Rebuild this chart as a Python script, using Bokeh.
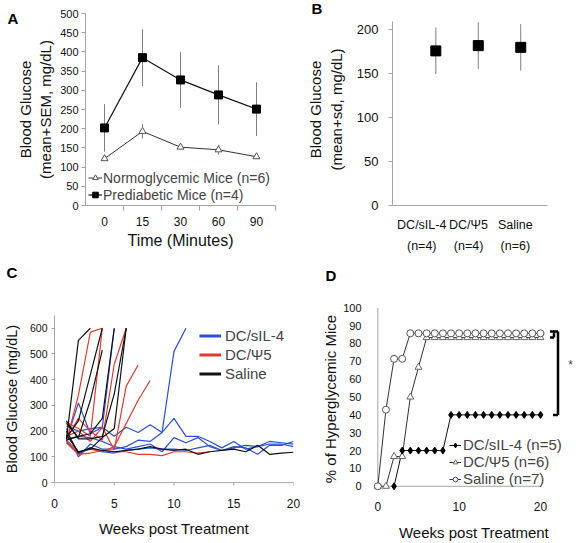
from bokeh.plotting import figure
from bokeh.models import Range1d, FixedTicker, Label, Legend, LegendItem, CustomJSTickFormatter
from bokeh.layouts import row, column
from bokeh.embed import file_html
from bokeh.resources import INLINE

FONT = "Liberation Sans"
AXC = "#a6a6a6"

# ---------------- Panel A data ----------------
a_times = ["0", "15", "30", "60", "90"]
a_normo_mean = [122, 193, 152, 145, 127]
a_normo_sem = [4, 19, 4, 13, 4]
a_pre_mean = [202, 385, 327, 288, 251]
a_pre_sem = [62, 74, 73, 77, 70]
a_yticks = [0, 50, 100, 150, 200, 250, 300, 350, 400, 450, 500]

# ---------------- Panel B data ----------------
b_groups = ["DC/sIL-4", "DC/\u03a85", "Saline"]
b_n = [4, 4, 6]
b_mean = [176, 182, 180]
b_sd = [26.5, 26.5, 26.5]
b_yticks = [0, 50, 100, 150, 200]

# ---------------- Panel C data (weekly glucose per mouse, from week 1) ----------------
c_weeks = [1, 2, 3, 4, 5, 6, 7, 8, 9, 10, 11, 12, 13, 14, 15, 16, 17, 18, 19, 20]
c_sil4 = [
    [165, 310, 190, 215, 600],
    [210, 100, 150, 130, 130, 140, 165, 160, 195, 510, 600],
    [220, 200, 210, 215, 180, 215, 195, 225, 195, 250, 180, 180, 160, 135, 160, 130, 140, 160, 155, 150],
    [170, 180, 175, 160, 140, 130, 140, 150, 120, 175, 155, 175, 140, 125, 140, 135, 110, 145, 145, 160],
    [160, 110, 135, 120, 115, 125, 130, 135, 130, 130, 125, 135, 145, 125, 135, 145, 140, 150, 150, 140],
]
c_psi5 = [
    [160, 340, 585, 600],
    [170, 250, 200, 165, 460, 600],
    [180, 200, 160, 215, 127, 375, 457],
    [165, 120, 130, 120, 140, 230, 320, 397],
    [155, 110, 115, 125, 120, 120, 110, 110, 105, 120, 120, 115, 120],
    [235, 210, 180, 600],
]
c_saline = [
    [170, 553, 600],
    [230, 175, 320, 515],
    [175, 240, 420, 600],
    [165, 180, 190, 250, 600],
    [240, 170, 170, 180, 345, 600],
    [185, 120, 130, 175, 210, 600],
    [200, 115, 135, 125, 120, 125, 130, 140, 130, 125, 130, 110, 120, 125, 130, 120, 145, 110, 115, 118],
]
c_labels = ["DC/sIL-4", "DC/\u03a85", "Saline"]
c_colors = ["#2b4fd8", "#e23a2e", "#111111"]
c_xticks = [0, 5, 10, 15, 20]
c_yticks = [0, 100, 200, 300, 400, 500, 600]

# ---------------- Panel D data (% hyperglycemic) ----------------
d_sil4_weeks = [2, 3, 4, 5, 6, 7, 8, 9, 10, 11, 12, 13, 14, 15, 16, 17, 18, 19, 20]
d_sil4_pct = [0, 20, 20, 20, 20, 20, 20, 40, 40, 40, 40, 40, 40, 40, 40, 40, 40, 40, 40]
d_psi5_weeks = [0, 1, 2, 3, 4, 5, 6, 7, 8, 9, 10, 11, 12, 13, 14, 15, 16, 17, 18, 19, 20]
d_psi5_pct = [0, 0, 16.7, 16.7, 50, 66.7, 83.3, 83.3, 83.3, 83.3, 83.3, 83.3, 83.3, 83.3, 83.3, 83.3, 83.3, 83.3, 83.3, 83.3, 83.3]
d_sal_weeks = [0, 1, 2, 3, 4, 5, 6, 7, 8, 9, 10, 11, 12, 13, 14, 15, 16, 17, 18, 19, 20]
d_sal_pct = [0, 42.9, 71.4, 71.4, 85.7, 85.7, 85.7, 85.7, 85.7, 85.7, 85.7, 85.7, 85.7, 85.7, 85.7, 85.7, 85.7, 85.7, 85.7, 85.7, 85.7]
d_labels = ["DC/sIL-4 (n=5)", "DC/\u03a85 (n=6)", "Saline (n=7)"]
d_xticks = [0, 10, 20]
d_yticks = [0, 10, 20, 30, 40, 50, 60, 70, 80, 90, 100]


class Geo:
    """figure placement: page origin (ox, oy), size, frame l/t/r/b in figure pixels"""
    def __init__(self, ox, oy, w, h, fl, ft, fr, fb, xr, yr):
        self.ox, self.oy, self.w, self.h = ox, oy, w, h
        self.fl, self.ft, self.fr, self.fb = fl, ft, fr, fb
        self.xr, self.yr = xr, yr

    def data(self, px, py):
        x = self.xr[0] + (px - self.ox - self.fl) / (self.fr - self.fl) * (self.xr[1] - self.xr[0])
        y = self.yr[0] + (self.oy + self.fb - py) / (self.fb - self.ft) * (self.yr[1] - self.yr[0])
        return x, y

    def dy(self, pixels):
        return pixels / (self.fb - self.ft) * (self.yr[1] - self.yr[0])


def make_fig(g):
    p = figure(width=g.w, height=g.h, x_range=Range1d(*g.xr), y_range=Range1d(*g.yr),
               output_backend="svg", toolbar_location=None,
               min_border_left=g.fl, min_border_right=g.w - g.fr,
               min_border_top=g.ft, min_border_bottom=g.h - g.fb)
    p.grid.visible = False
    p.outline_line_color = None
    for ax in (p.xaxis[0], p.yaxis[0]):
        ax.axis_line_color = AXC
        ax.major_tick_line_color = AXC
        ax.minor_tick_line_color = None
        ax.major_tick_in = 0
        ax.major_label_text_font = FONT
        ax.major_label_text_color = "#111111"
        ax.axis_label_text_font = FONT
        ax.axis_label_text_font_style = "normal"
        ax.axis_label_text_color = "#111111"
    return p


def letter(p, g, txt, page_x, valign, standoff):
    t = p.title
    t.text = txt
    t.align = "left"
    t.offset = page_x - g.ox - g.fl
    t.vertical_align = valign
    t.standoff = standoff
    t.text_font = FONT
    t.text_font_size = "15px"
    t.text_font_style = "bold"
    t.text_color = "black"


W1, W2 = 304, 272
H1, H2 = 262, 281

# ====================== Panel A ======================
gA = Geo(0, 0, W1, H1, 85, 13, 275, 205, (-0.5, 4.5), (0, 500))
pA = make_fig(gA)
ax_idx = list(range(len(a_times)))
pA.xaxis.ticker = FixedTicker(ticks=ax_idx, minor_ticks=[i + 0.5 for i in ax_idx])
pA.xaxis.major_label_overrides = {i: t for i, t in zip(ax_idx, a_times)}
pA.xaxis.major_tick_out = 0
pA.xaxis.minor_tick_line_color = AXC
pA.xaxis.minor_tick_out = 5
pA.xaxis.minor_tick_in = 0
pA.xaxis.major_label_standoff = 6
pA.xaxis.major_label_text_font_size = "12px"
pA.xaxis.axis_label = "Time (Minutes)"
pA.xaxis.axis_label_text_font_size = "16px"
pA.xaxis.axis_label_standoff = 3
pA.yaxis.ticker = FixedTicker(ticks=a_yticks)
pA.yaxis.major_tick_out = 4
pA.yaxis.major_label_standoff = 3
pA.yaxis.major_label_text_font_size = "11px"
pA.yaxis.axis_label = "Blood Glucose\n(mean+SEM, mg/dL)"
pA.yaxis.axis_label_text_font_size = "15px"
pA.yaxis.axis_label_standoff = 3

pA.segment(x0=ax_idx, y0=[m - s for m, s in zip(a_pre_mean, a_pre_sem)],
           x1=ax_idx, y1=[m + s for m, s in zip(a_pre_mean, a_pre_sem)], line_color="#808080", line_width=1)
pA.segment(x0=ax_idx, y0=[m - s for m, s in zip(a_normo_mean, a_normo_sem)],
           x1=ax_idx, y1=[m + s for m, s in zip(a_normo_mean, a_normo_sem)], line_color="#808080", line_width=1)
lnA1 = pA.line(ax_idx, a_normo_mean, line_color="#333333", line_width=1)
mkA1 = pA.scatter(ax_idx, a_normo_mean, marker="triangle", size=7, fill_color="white", line_color="#555555")
lnA2 = pA.line(ax_idx, a_pre_mean, line_color="#111111", line_width=1.2)
mkA2 = pA.scatter(ax_idx, a_pre_mean, marker="square", size=8, fill_color="black", line_color="black")
legA = Legend(items=[LegendItem(label="Normoglycemic Mice (n=6)", renderers=[lnA1, mkA1]),
                     LegendItem(label="Prediabetic Mice (n=4)", renderers=[lnA2, mkA2])],
              location=(3, 2), padding=0, margin=0, spacing=0, glyph_width=14, glyph_height=17,
              label_height=17, label_standoff=1, label_text_font=FONT, label_text_font_size="14px",
              background_fill_alpha=0, border_line_color=None)
pA.add_layout(legA)
letter(pA, gA, "\nA", 7, "bottom", -26)

# ====================== Panel B ======================
b_scale = (205 - 29.3) / 200.0           # px per unit
gB = Geo(W1, 0, W2, H1, 84, 13, 243, 205, (-1.02, 2.63), (0, (205 - 13) / b_scale))
pB = make_fig(gB)
bx = list(range(len(b_groups)))
b_label_x = [gB.data(px, 0)[0] for px in (418, 466, 514)]
pB.xaxis.ticker = FixedTicker(ticks=b_label_x)
pB.xaxis.formatter = CustomJSTickFormatter(
    args=dict(labels=[f"{g}\n(n={n})" for g, n in zip(b_groups, b_n)]),
    code="return labels[index]")
pB.xaxis.major_tick_out = 0
pB.xaxis.major_label_standoff = 12
pB.xaxis.major_label_text_font_size = "12.5px"
pB.xaxis.major_label_text_line_height = 1.55
pB.yaxis.ticker = FixedTicker(ticks=b_yticks)
pB.yaxis.bounds = (0, 209)
pB.yaxis.major_tick_out = 4
pB.yaxis.major_label_standoff = 10
pB.yaxis.major_label_text_font_size = "13px"
pB.yaxis.axis_label = "Blood Glucose\n(mean+sd, mg/dL)"
pB.yaxis.axis_label_text_font_size = "15px"
pB.yaxis.axis_label_standoff = 9
pB.segment(x0=bx, y0=[m - s for m, s in zip(b_mean, b_sd)], x1=bx,
           y1=[m + s for m, s in zip(b_mean, b_sd)], line_color="#808080", line_width=1)
pB.scatter(bx, b_mean, marker="square", size=10, fill_color="black", line_color="black")
letter(pB, gB, "B", 307, "top", -11)

# ====================== Panel C ======================
c_scale = (485 - 315) / 650.0
gC = Geo(0, H1, W1, H2, 53, 45, 293, 231, (0, 20),
         (-(493 - 485) / c_scale, 650 + (315 - 307) / c_scale))
pC = make_fig(gC)
pC.xaxis.ticker = FixedTicker(ticks=c_xticks)
pC.yaxis.ticker = FixedTicker(ticks=c_yticks)
pC.yaxis.bounds = (0, 650)
pC.xaxis.axis_line_color = None
pC.xaxis.major_tick_line_color = None
pC.yaxis.major_tick_out = 3
pC.xaxis.major_label_standoff = 2
pC.yaxis.major_label_standoff = 4
pC.xaxis.major_label_text_font_size = "12px"
pC.yaxis.major_label_text_font_size = "10.5px"
pC.xaxis.axis_label = "Weeks post Treatment"
pC.xaxis.axis_label_text_font_size = "15px"
pC.xaxis.axis_label_standoff = 9
pC.yaxis.axis_label = "Blood Glucose (mg/dL)"
pC.yaxis.axis_label_text_font_size = "14.5px"
pC.yaxis.axis_label_standoff = 7
# x axis line at glucose 0, with its tick marks
pC.segment(x0=[c_xticks[0]], y0=[0], x1=[c_xticks[-1]], y1=[0], line_color=AXC, line_width=1)
pC.segment(x0=c_xticks, y0=[0] * len(c_xticks), x1=c_xticks, y1=[-gC.dy(3)] * len(c_xticks),
           line_color=AXC, line_width=1)
c_items = []
for group, col, lab in zip([c_sil4, c_psi5, c_saline], c_colors, c_labels):
    for mouse in group:
        pC.line(c_weeks[:len(mouse)], mouse, line_color=col, line_width=1.2)
    # legend swatch: a thick line renderer with no drawable points
    swatch = pC.line(x=[c_weeks[0]], y=[float("nan")], line_color=col, line_width=3)
    c_items.append(LegendItem(label=lab, renderers=[swatch]))
legC = Legend(items=c_items, location=(145, 107), padding=0, margin=0, spacing=0,
              glyph_width=22, glyph_height=19, label_height=19, label_standoff=4,
              label_text_font=FONT, label_text_font_size="15px",
              background_fill_alpha=0, border_line_color=None)
pC.add_layout(legC)
letter(pC, gC, "C\n\n", 5, "top", -19)

# ====================== Panel D ======================
d_xscale = (540 - 377.3) / 20.0
d_yscale = (488.7 - 307.3) / 100.0
gD = Geo(W1, H1, W2, H2, 69, 45, 270, 231,
         (-(377.3 - 373) / d_xscale, 20 + (574 - 540) / d_xscale),
         (-(493 - 488.7) / d_yscale, 100 + (307.3 - 307) / d_yscale))
pD = make_fig(gD)
pD.xaxis.ticker = FixedTicker(ticks=d_xticks)
pD.yaxis.ticker = FixedTicker(ticks=d_yticks)
for ax in (pD.xaxis[0], pD.yaxis[0]):
    ax.axis_line_color = None
    ax.major_tick_line_color = None
pD.xaxis.major_label_standoff = 5
pD.yaxis.major_label_standoff = 6
pD.xaxis.major_label_text_font_size = "12px"
pD.yaxis.major_label_text_font_size = "11px"
pD.xaxis.axis_label = "Weeks post Treatment"
pD.xaxis.axis_label_text_font_size = "15px"
pD.xaxis.axis_label_standoff = 10
pD.yaxis.axis_label = "% of Hyperglycemic Mice"
pD.yaxis.axis_label_text_font_size = "15px"
pD.yaxis.axis_label_standoff = 1
# axis lines drawn at the data origin
pD.segment(x0=[d_xticks[0]], y0=[d_yticks[0]], x1=[d_xticks[-1]], y1=[d_yticks[0]], line_color=AXC, line_width=1)
pD.segment(x0=[d_xticks[0]], y0=[d_yticks[0]], x1=[d_xticks[0]], y1=[d_yticks[-1]], line_color=AXC, line_width=1)

l1 = pD.line(d_sil4_weeks, d_sil4_pct, line_color="#111111", line_width=1)
l2 = pD.line(d_psi5_weeks, d_psi5_pct, line_color="#333333", line_width=1)
l3 = pD.line(d_sal_weeks, d_sal_pct, line_color="#333333", line_width=1)
m2 = pD.scatter(d_psi5_weeks, d_psi5_pct, marker="triangle", size=7, fill_color="white", line_color="#666666")
m3 = pD.scatter(d_sal_weeks, d_sal_pct, marker="circle", size=7, fill_color="white", line_color="#555555")
m1 = pD.scatter(d_sil4_weeks, d_sil4_pct, marker="diamond", size=7, fill_color="black", line_color="black")
legD = Legend(items=[LegendItem(label=d_labels[0], renderers=[l1, m1]),
                     LegendItem(label=d_labels[1], renderers=[l2, m2]),
                     LegendItem(label=d_labels[2], renderers=[l3, m3])],
              location=(76, 3), padding=0, margin=0, spacing=0, glyph_width=12, glyph_height=16,
              label_height=16, label_standoff=2, label_text_font=FONT, label_text_font_size="15px",
              background_fill_alpha=0, border_line_color=None)
pD.add_layout(legD)

# significance brackets
top_y = d_sal_pct[-1] + 1
bx_big, _ = gD.data(557.5, 0)
bx_arm, _ = gD.data(552.5, 0)
pD.segment(x0=[bx_big], y0=[top_y], x1=[bx_big], y1=[d_sil4_pct[-1]], line_color="black", line_width=2.5)
pD.segment(x0=[bx_arm, bx_arm], y0=[top_y, d_sil4_pct[-1]], x1=[bx_big, bx_big],
           y1=[top_y, d_sil4_pct[-1]], line_color="black", line_width=2.5)
bx_sm, _ = gD.data(553.5, 0)
bx_sm_arm, _ = gD.data(549.5, 0)
pD.segment(x0=[bx_sm], y0=[top_y], x1=[bx_sm], y1=[d_psi5_pct[-1]], line_color="black", line_width=2.5)
pD.segment(x0=[bx_sm_arm, bx_sm_arm], y0=[top_y, d_psi5_pct[-1]], x1=[bx_sm, bx_sm],
           y1=[top_y, d_psi5_pct[-1]], line_color="black", line_width=2.5)
sx, sy = gD.data(570, 365)
pD.add_layout(Label(x=sx, y=sy, text="*", text_font=FONT, text_font_size="12px",
                    text_align="center", text_baseline="middle"))
letter(pD, gD, "D\n\n", 325, "top", -25)

layout = column(row(pA, pB), row(pC, pD))

open("out.html", "w").write(file_html(layout, INLINE))
